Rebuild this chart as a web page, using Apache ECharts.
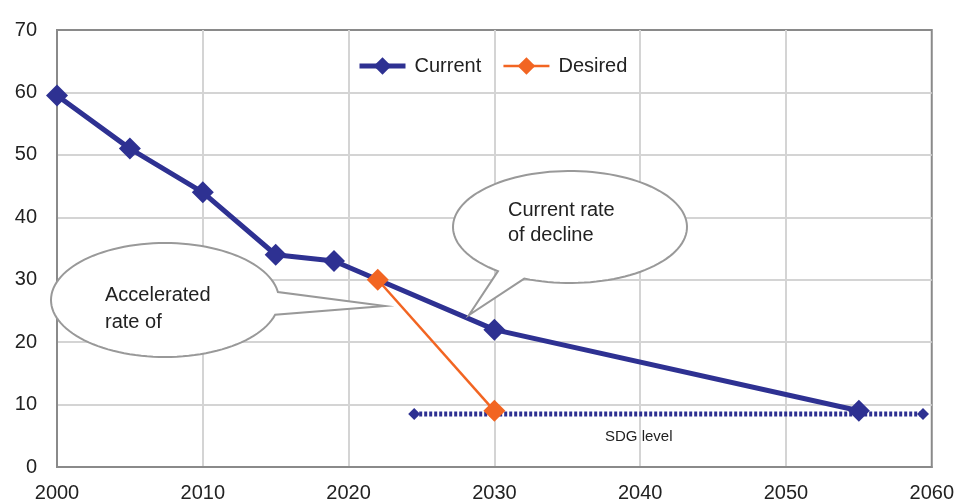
<!DOCTYPE html>
<html>
<head>
<meta charset="utf-8">
<script src="https://cdn.jsdelivr.net/npm/echarts@6/dist/echarts.min.js"></script>
<style>
  html, body { margin: 0; padding: 0; background: #fff; }
  #chart { width: 957px; height: 503px; }
</style>
</head>
<body>
<div id="chart"></div>
<script>
// values
const currentYears = [2000, 2005, 2010, 2015, 2019, 2030, 2055]
const currentValues = [59.5, 51, 44, 34, 33, 22, 9]
const desiredYears = [2022, 2030]
const desiredValues = [30, 9]
const sdgYears = [2024.5, 2059.4]
const sdgValues = [8.5, 8.5]

const NAVY = '#2e3192'
const ORANGE = '#f26522'
const FONT = '"Liberation Sans", Arial, sans-serif'

const pairs = (xs, ys) => xs.map((x, i) => [x, ys[i]])

// speech bubble outline: ellipse from angle s to e (degrees), then the tip
function bubble(cx, cy, rx, ry, s, e, tip) {
  const pts = []
  for (let a = s; a <= e; a += 3) {
    const t = a * Math.PI / 180
    pts.push([cx + rx * Math.cos(t), cy + ry * Math.sin(t)])
  }
  const t = e * Math.PI / 180
  pts.push([cx + rx * Math.cos(t), cy + ry * Math.sin(t)])
  pts.push(tip)
  return {
    type: 'polygon',
    shape: { points: pts },
    style: { fill: '#fff', stroke: '#999', lineWidth: 2 },
    z: 10
  }
}

const chart = echarts.init(document.getElementById('chart'))
chart.setOption({
  animation: false,
  textStyle: { fontFamily: FONT },
  grid: {
    left: 57, right: 24, top: 30, bottom: 36,
    show: true, borderColor: '#8a8a8a', borderWidth: 2
  },
  legend: {
    data: [
      { name: 'Current', lineStyle: { width: 5 } },
      { name: 'Desired', lineStyle: { width: 2.5 } }
    ],
    left: 352, top: 51,
    itemWidth: 46, itemHeight: 22, itemGap: 21,
    textStyle: { fontSize: 20, color: '#222', fontFamily: FONT, padding: [0, 0, 0, 4] }
  },
  xAxis: {
    type: 'value', min: 2000, max: 2060, interval: 10,
    axisLine: { show: true, lineStyle: { color: '#8a8a8a', width: 2 } },
    axisTick: { show: false },
    axisLabel: { fontSize: 20, color: '#222', margin: 16, formatter: v => String(v) },
    splitLine: { showMinLine: false, showMaxLine: false, lineStyle: { color: '#d4d4d4', width: 2 } }
  },
  yAxis: {
    type: 'value', min: 0, max: 70, interval: 10,
    axisLine: { show: true, lineStyle: { color: '#8a8a8a', width: 2 } },
    axisTick: { show: false },
    axisLabel: { fontSize: 20, color: '#222', margin: 20 },
    splitLine: { showMinLine: false, showMaxLine: false, lineStyle: { color: '#d4d4d4', width: 2 } }
  },
  series: [
    {
      name: 'SDG level', type: 'line', data: pairs(sdgYears, sdgValues),
      symbol: 'diamond', symbolSize: 12, z: 2,
      lineStyle: { color: NAVY, width: 5, type: [3, 2] },
      itemStyle: { color: NAVY }
    },
    {
      name: 'Current', type: 'line', data: pairs(currentYears, currentValues),
      symbol: 'diamond', symbolSize: 22, z: 3,
      lineStyle: { color: NAVY, width: 5 },
      itemStyle: { color: NAVY }
    },
    {
      name: 'Desired', type: 'line', data: pairs(desiredYears, desiredValues),
      symbol: 'diamond', symbolSize: 22, z: 4,
      lineStyle: { color: ORANGE, width: 2.5 },
      itemStyle: { color: ORANGE }
    }
  ],
  graphic: [
    bubble(165, 300, 114, 57, 15, 352, [385, 306]),
    {
      type: 'text', left: 105, top: 282, z: 11,
      style: { text: 'Accelerated\nrate of', font: '20px ' + FONT, fill: '#222', lineHeight: 27 }
    },
    bubble(570, 227, 117, 56, 128, 473, [469, 315]),
    {
      type: 'text', left: 508, top: 198, z: 11,
      style: { text: 'Current rate\nof decline', font: '20px ' + FONT, fill: '#222', lineHeight: 25 }
    },
    {
      type: 'text', left: 605, top: 429, z: 11,
      style: { text: 'SDG level', font: '15px ' + FONT, fill: '#222' }
    }
  ]
})
</script>
</body>
</html>
